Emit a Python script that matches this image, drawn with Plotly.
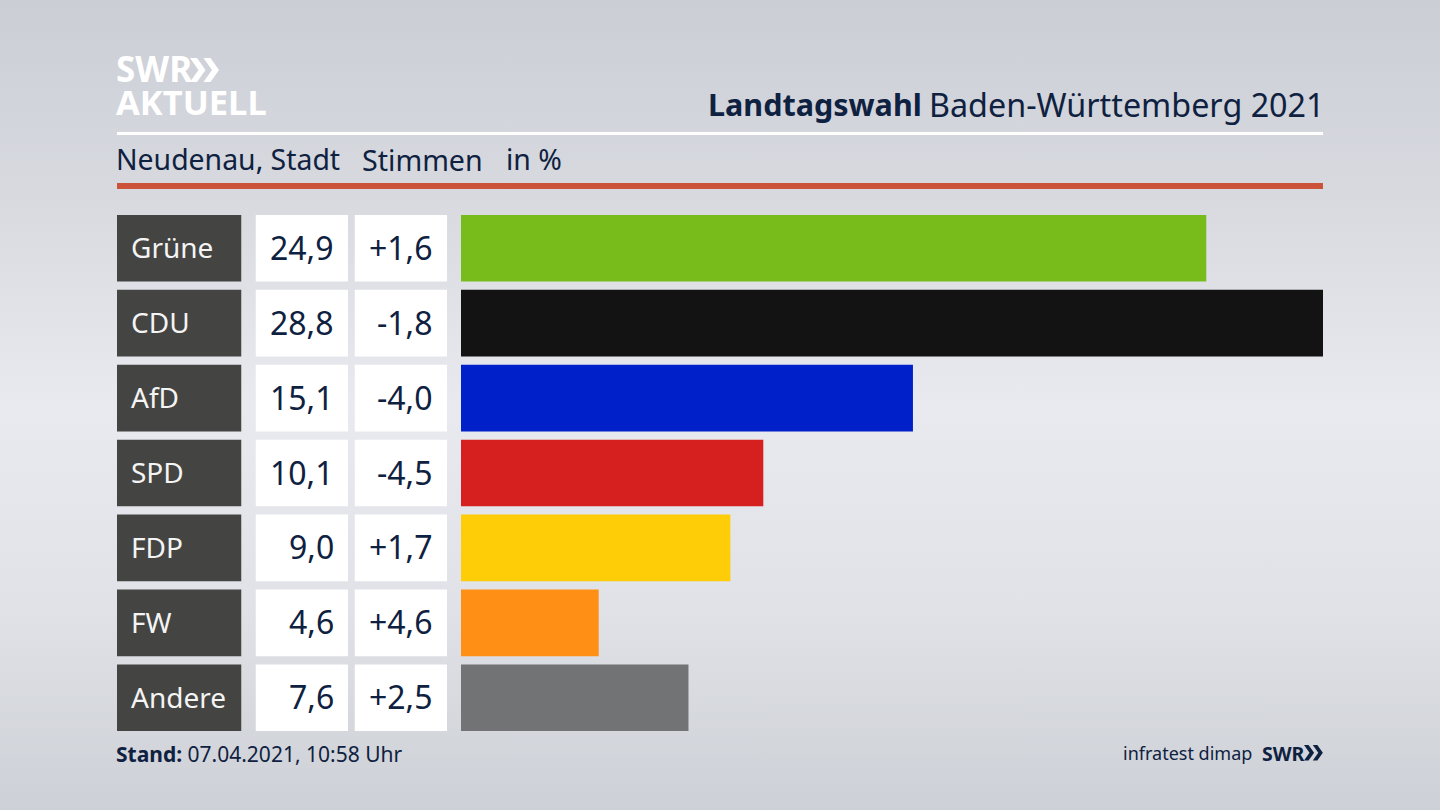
import base64
import plotly.graph_objects as go

W, H = 1440, 810
parties = ["Grüne", "CDU", "AfD", "SPD", "FDP", "FW", "Andere"]
shares = [24.9, 28.8, 15.1, 10.1, 9.0, 4.6, 7.6]
changes = ["+1,6", "-1,8", "-4,0", "-4,5", "+1,7", "+4,6", "+2,5"]
colors = ["#78bc1b", "#131313", "#0021c9", "#d61f1f", "#ffcc08", "#ff9015", "#727374"]
FONT = "Noto Sans"
NAVY = "#0f2140"

def px(x): return x / W
def py(y): return 1 - y / H

svg = f'''<svg xmlns="http://www.w3.org/2000/svg" width="{W}" height="{H}" preserveAspectRatio="none">
<defs><linearGradient id="g" x1="0" y1="0" x2="0" y2="1">
<stop offset="0" stop-color="#cbced5"/><stop offset="0.25" stop-color="#d8dae0"/>
<stop offset="0.5" stop-color="#e9eaef"/><stop offset="0.75" stop-color="#e0e2e7"/>
<stop offset="1" stop-color="#cdd0d6"/></linearGradient></defs>
<rect width="{W}" height="{H}" fill="url(#g)"/></svg>'''
bg = "data:image/svg+xml;base64," + base64.b64encode(svg.encode()).decode()

fig = go.Figure()
ydom = [py(735.2), py(210.8)]
cols = [("x2", 117, 241.5, "#444442"), ("x3", 255.5, 348, "#ffffff"), ("x4", 354.5, 447, "#ffffff")]
for ax, x0, x1, c in cols:
    fig.add_bar(y=parties, x=[1] * len(parties), xaxis=ax, yaxis="y", orientation="h",
                marker=dict(color=c, line_width=0), width=0.89, showlegend=False, hoverinfo="skip")
fig.add_bar(y=parties, x=shares, xaxis="x", yaxis="y", orientation="h",
            marker=dict(color=colors, line_width=0), width=0.89, showlegend=False)

layout_axes = dict(
    xaxis=dict(domain=[px(461), px(1323)], range=[0, 28.8], visible=False, fixedrange=True),
    yaxis=dict(domain=ydom, autorange=False, range=[6.5, -0.5], type="category",
               categoryorder="array", categoryarray=parties, visible=False, fixedrange=True),
)
for ax, x0, x1, c in cols:
    layout_axes["xaxis" + ax[1:]] = dict(domain=[px(x0), px(x1)], range=[0, 1], visible=False,
                                          anchor="y", fixedrange=True)

ann = []
def text(x, y, s, size, color=NAVY, anchor="left", family=FONT):
    ann.append(dict(xref="paper", yref="paper", x=px(x), y=py(y), text=s, showarrow=False,
                    xanchor=anchor, yanchor="middle", align=anchor, borderpad=0, borderwidth=0,
                    font=dict(family=family, size=size, color=color)))

for p, s, d in zip(parties, shares, changes):
    ann.append(dict(xref="paper", yref="y", x=px(129), y=p, text=p, showarrow=False, xanchor="left",
                    yanchor="middle", yshift=1, font=dict(family=FONT, size=28, color="#f4f4f4")))
    ann.append(dict(xref="paper", yref="y", x=px(336), y=p, text=f"{s:.1f}".replace(".", ","), showarrow=False,
                    xanchor="right", yanchor="middle", yshift=1, font=dict(family=FONT, size=32, color=NAVY)))
    ann.append(dict(xref="paper", yref="y", x=px(435), y=p, text=d, showarrow=False, xanchor="right",
                    yanchor="middle", yshift=1, font=dict(family=FONT, size=32, color=NAVY)))

text(116, 69, "<b>SWR</b>", 35, "#ffffff")
text(116, 102, "<b>AKTUELL</b>", 34.5, "#ffffff")
text(708, 104, "<b>Landtagswahl</b>", 30.5)
text(1325, 104, "Baden-Württemberg 2021", 32.3, anchor="right")
text(116, 159, "Neudenau, Stadt", 28.4)
text(362, 159, "Stimmen", 28.6)
text(506, 159, "in %", 28.4)
text(116, 754, "<b>Stand:</b> 07.04.2021, 10:58 Uhr", 21)
text(1252, 753, "infratest dimap", 18, anchor="right")
text(1262, 753, "<b>SWR</b>", 19.5, anchor="left")

def chevrons(x, y, s, color):
    out = []
    for dx in (0, 13.5):
        pts = [(0, 0), (7, 0), (15.5, 12), (7, 24), (0, 24), (8.5, 12)]
        d = "M " + " L ".join(f"{px(x + (dx + a) * s):.5f},{py(y + b * s):.5f}" for a, b in pts) + " Z"
        out.append(dict(type="path", xref="paper", yref="paper", path=d, fillcolor=color, line_width=0))
    return out

shapes = [
    dict(type="rect", xref="paper", yref="paper", x0=px(117), x1=px(1323), y0=py(135), y1=py(132),
         fillcolor="#ffffff", line_width=0),
    dict(type="rect", xref="paper", yref="paper", x0=px(117), x1=px(1323), y0=py(189), y1=py(183),
         fillcolor="#cc5139", line_width=0),
] + chevrons(190, 58, 1.0, "#ffffff") + chevrons(1304, 745, 0.65, NAVY)

fig.update_layout(
    width=W, height=H, autosize=False, margin=dict(l=0, r=0, t=0, b=0),
    paper_bgcolor="#e0e2e7", plot_bgcolor="rgba(0,0,0,0)", barmode="overlay", showlegend=False,
    font=dict(family=FONT), annotations=ann, shapes=shapes,
    images=[dict(source=bg, xref="paper", yref="paper", x=0, y=1, sizex=1, sizey=1,
                 xanchor="left", yanchor="top", sizing="stretch", layer="below")],
    **layout_axes,
)
fig.write_html("out.html", config={"displayModeBar": False},
               post_script="document.body.style.margin='0';document.body.style.overflow='hidden';")
